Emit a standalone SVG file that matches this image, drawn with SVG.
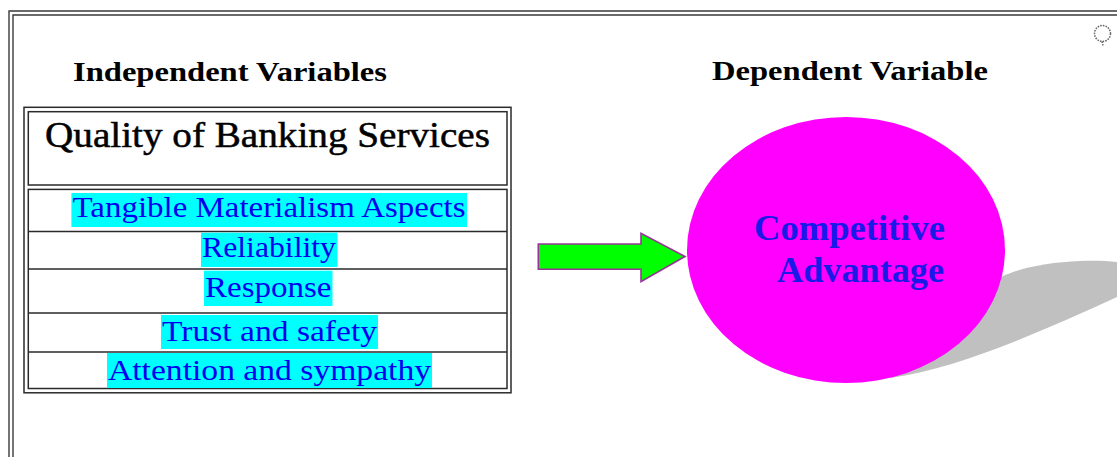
<svg xmlns="http://www.w3.org/2000/svg" width="1117" height="457" viewBox="0 0 1117 457">
<style>
.frame{fill:none;stroke:#3a3a3a;stroke-width:1.4}
.tbl{fill:none;stroke:#2a2a2a;stroke-width:1.5}
.sep{stroke:#2a2a2a;stroke-width:1.6}
.head{font-family:"Liberation Serif","Times New Roman",serif;font-weight:bold;font-size:27px;fill:#000}
.title{font-family:"Liberation Serif","Times New Roman",serif;font-size:36px;fill:#000;stroke:#000;stroke-width:0.5}
.hl{fill:#00FFFF}
.item{font-family:"Liberation Serif","Times New Roman",serif;font-size:29px;fill:#0000EE}
.ca{font-family:"Liberation Serif","Times New Roman",serif;font-weight:bold;font-size:36px;fill:#1A1AE8}
.mk{fill:none;stroke:#666;stroke-width:1.5;stroke-dasharray:1.6 1.1}
</style>
<rect width="1117" height="457" fill="#fff"/>
<g id="frame">
<path class="frame" d="M9 457 V11 H1117"/>
<path class="frame" d="M13 457 V15 H1117"/>
</g>
<g id="mark">
<ellipse class="mk" cx="1102.5" cy="33.5" rx="8" ry="8"/>
<path class="mk" d="M1102 41.5 L1103 45.5"/>
</g>
<text class="head" x="73" y="81" textLength="314" lengthAdjust="spacingAndGlyphs">Independent Variables</text>
<text class="head" x="712" y="80" textLength="276" lengthAdjust="spacingAndGlyphs">Dependent Variable</text>
<g id="independent">
<rect class="tbl" x="24" y="107.3" width="487" height="285.5"/>
<rect class="tbl" x="28.3" y="111.7" width="478.7" height="73.3"/>
<rect class="tbl" x="28.3" y="189.4" width="478.7" height="199.1"/>
<line class="sep" x1="28.3" y1="231.5" x2="507" y2="231.5"/>
<line class="sep" x1="28.3" y1="269" x2="507" y2="269"/>
<line class="sep" x1="28.3" y1="313" x2="507" y2="313"/>
<line class="sep" x1="28.3" y1="352" x2="507" y2="352"/>
<text class="title" x="45" y="147" textLength="445" lengthAdjust="spacingAndGlyphs">Quality of Banking Services</text>
<rect class="hl" x="71.4" y="193" width="395.6" height="34"/>
<rect class="hl" x="201" y="232.7" width="136.5" height="34.3"/>
<rect class="hl" x="204" y="270.7" width="128.5" height="35.3"/>
<rect class="hl" x="161" y="315" width="217" height="34"/>
<rect class="hl" x="107" y="353" width="325" height="35"/>
<text class="item" x="72.5" y="217" textLength="393" lengthAdjust="spacingAndGlyphs">Tangible Materialism Aspects</text>
<text class="item" x="202" y="257" textLength="134" lengthAdjust="spacingAndGlyphs">Reliability</text>
<text class="item" x="205" y="297" textLength="126.5" lengthAdjust="spacingAndGlyphs">Response</text>
<text class="item" x="162" y="340.5" textLength="215" lengthAdjust="spacingAndGlyphs">Trust and safety</text>
<text class="item" x="108" y="380" textLength="323" lengthAdjust="spacingAndGlyphs">Attention and sympathy</text>
</g>
<g id="connectors">
<path d="M538.3 244 H641 V233.3 L685 256.5 L641 281.7 V269.3 H538.3 Z" fill="#00FF00" stroke="#993399" stroke-width="1.6" stroke-linejoin="miter"/>
</g>
<g id="dependent">
<path d="M890 378 C960 368 1040 332 1117 297 C1130 291 1140 282 1140 274 C1140 262 1110 260 1080 261 C1050 262 1020 268 1003 276 L960 300 Z" fill="#C0C0C0"/>
<ellipse cx="846" cy="250" rx="159" ry="133" fill="#FF00FF"/>
<text class="ca" x="754" y="240" textLength="191" lengthAdjust="spacingAndGlyphs">Competitive</text>
<text class="ca" x="777" y="281.5" textLength="167" lengthAdjust="spacingAndGlyphs">Advantage</text>
</g>
</svg>
